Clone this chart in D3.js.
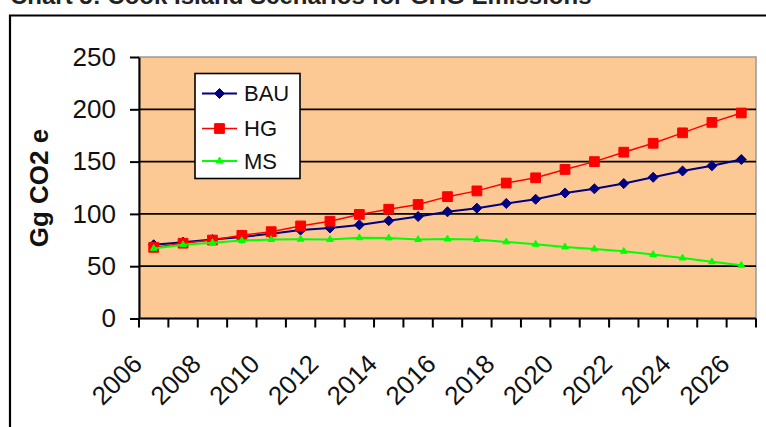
<!DOCTYPE html>
<html>
<head>
<meta charset="utf-8">
<script src="https://cdn.jsdelivr.net/npm/d3@7"></script>
<style>
  html, body { margin: 0; padding: 0; background: #fff; }
  svg { display: block; font-family: "Liberation Sans", Arial, sans-serif; }
</style>
</head>
<body>
<svg id="chart" width="766" height="427"></svg>
<script>
// Projected greenhouse gas emissions, Gg CO2 e, 2006–2026
const years = d3.range(2006, 2027);
const bauValues = [70.5, 73, 75.5, 78, 81, 84.5, 86.5, 89.5, 93.5, 97.5, 102, 105.5, 110, 114, 120, 124, 129, 135, 141, 146, 152];
const hgValues  = [68, 72, 75, 79.5, 83, 88.5, 93, 99.5, 104.5, 109, 116.5, 122, 129.5, 134.5, 142.5, 150, 159, 167.5, 177.5, 187.5, 196.5];
const msValues  = [67, 70.5, 72.5, 74.5, 75.5, 75.8, 75.5, 77.2, 77, 75.5, 76, 75.5, 73.2, 71, 68.4, 66.5, 64.2, 61.1, 57.8, 54.2, 50.8];
const seriesNames = ["BAU", "HG", "MS"];
const yTicks = [0, 50, 100, 150, 200, 250];
const xLabelYears = d3.range(2006, 2027, 2);

const series = [
  { name: seriesNames[0], values: bauValues, color: "#000080", symbol: d3.symbolDiamond2, size: 64, width: 2 },
  { name: seriesNames[1], values: hgValues,  color: "#ff0000", symbol: d3.symbolSquare2,  size: 121, width: 1.5 },
  { name: seriesNames[2], values: msValues,  color: "#00ff00", symbol: d3.symbolTriangle2, size: 32, width: 2 }
];

const svg = d3.select("#chart");
const plot = { left: 139, right: 756, top: 57, bottom: 318.5 };

const x = d3.scaleBand().domain(years).range([plot.left, plot.right]);
const y = d3.scaleLinear().domain([0, 250]).range([plot.bottom, plot.top]);
const cx = d => x(d) + x.bandwidth() / 2;

// Title line, clipped by the top of the page
svg.append("text")
  .attr("x", 10).attr("y", 4)
  .attr("font-size", 24).attr("font-weight", "bold").attr("fill", "#222")
  .text("Chart 5: Cook Island Scenarios for GHG Emissions");

// Outer chart frame
svg.append("path")
  .attr("d", "M10,427 V15.5 H766")
  .attr("fill", "none").attr("stroke", "#000").attr("stroke-width", 2.2);

// Plot area
svg.append("rect")
  .attr("x", plot.left).attr("y", plot.top)
  .attr("width", plot.right - plot.left).attr("height", plot.bottom - plot.top)
  .attr("fill", "#fcc994").attr("stroke", "#9a9a9a").attr("stroke-width", 1.5);

// Horizontal gridlines
svg.append("g").selectAll("line")
  .data(yTicks.filter(t => t > 0 && t < 250))
  .join("line")
  .attr("x1", plot.left).attr("x2", plot.right)
  .attr("y1", d => y(d)).attr("y2", d => y(d))
  .attr("stroke", "#000").attr("stroke-width", 1.8);

// Y axis
const yAxis = svg.append("g")
  .attr("transform", `translate(${plot.left},0)`)
  .call(d3.axisLeft(y).tickValues(yTicks).tickSize(9).tickPadding(14).tickSizeOuter(0));
yAxis.select(".domain").attr("stroke", "#000").attr("stroke-width", 2);
yAxis.selectAll(".tick line").attr("stroke", "#000").attr("stroke-width", 2);
yAxis.selectAll(".tick text")
  .attr("font-size", 26).attr("fill", "#111")
  .attr("font-family", "Liberation Sans, Arial, sans-serif");

// X axis: ticks on category boundaries
const boundaries = years.map(d => x(d)).concat([plot.right]);
const xAxis = svg.append("g");
xAxis.append("line")
  .attr("x1", plot.left).attr("x2", plot.right)
  .attr("y1", plot.bottom).attr("y2", plot.bottom)
  .attr("stroke", "#000").attr("stroke-width", 2);
xAxis.selectAll("line.tick")
  .data(boundaries)
  .join("line").attr("class", "tick")
  .attr("x1", d => d).attr("x2", d => d)
  .attr("y1", plot.bottom).attr("y2", plot.bottom + 9)
  .attr("stroke", "#000").attr("stroke-width", 2);
xAxis.selectAll("text")
  .data(xLabelYears)
  .join("text")
  .attr("transform", d => `translate(${cx(d) - 10},${plot.bottom + 47}) rotate(-45)`)
  .attr("text-anchor", "end")
  .attr("font-size", 26).attr("fill", "#111")
  .text(d => d);

// Y axis title
svg.append("text")
  .attr("transform", `translate(39,188) rotate(-90)`)
  .attr("text-anchor", "middle").attr("dominant-baseline", "central")
  .attr("font-size", 26).attr("font-weight", "bold").attr("fill", "#111")
  .text("Gg CO2 e");

// Series lines and markers
const line = d3.line().x((d, i) => cx(years[i])).y(d => y(d));
series.forEach(s => {
  const g = svg.append("g");
  g.append("path")
    .attr("d", line(s.values))
    .attr("fill", "none").attr("stroke", s.color).attr("stroke-width", s.width);
  g.selectAll("path.marker")
    .data(s.values)
    .join("path").attr("class", "marker")
    .attr("d", d3.symbol().type(s.symbol).size(s.size))
    .attr("transform", (d, i) => `translate(${cx(years[i])},${y(d)})`)
    .attr("fill", s.color).attr("stroke", s.color).attr("stroke-width", 1);
});

// Legend
const legend = svg.append("g");
legend.append("rect")
  .attr("x", 195).attr("y", 73.5).attr("width", 105).attr("height", 105)
  .attr("fill", "#fff").attr("stroke", "#000").attr("stroke-width", 1.6);
const rowY = [93.5, 128.5, 161];
series.forEach((s, i) => {
  const row = legend.append("g").attr("transform", `translate(0,${rowY[i]})`);
  row.append("line")
    .attr("x1", 202).attr("x2", 237).attr("y1", 0).attr("y2", 0)
    .attr("stroke", s.color).attr("stroke-width", s.width);
  row.append("path")
    .attr("d", d3.symbol().type(s.symbol).size(s.size))
    .attr("transform", "translate(219.5,0)")
    .attr("fill", s.color).attr("stroke", s.color).attr("stroke-width", 1);
  row.append("text")
    .attr("x", 244).attr("y", 0).attr("dominant-baseline", "central")
    .attr("font-size", 22).attr("fill", "#111")
    .text(s.name);
});
</script>
</body>
</html>
